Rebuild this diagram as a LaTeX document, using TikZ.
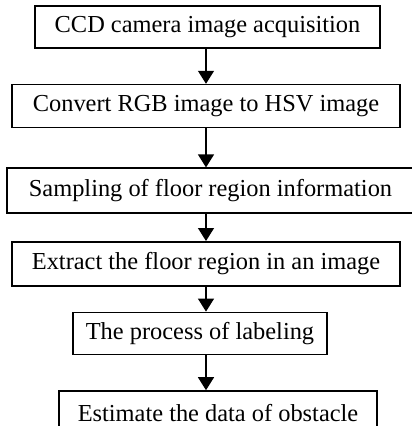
\documentclass[tikz,border=0pt]{standalone}
\usepackage{fontspec}
\setmainfont{Liberation Serif}
\usetikzlibrary{positioning,arrows.meta}

\begin{document}
\begin{tikzpicture}[
    font=\fontsize{24.4}{29}\selectfont,
    stepbox/.style={rectangle, draw, line width=1.6pt, inner sep=0pt, minimum height=43pt},
    arrow/.style={-{Triangle[length=13pt,width=16pt]}, line width=1.3pt}
]
    \useasboundingbox (0,0) rectangle (412pt,-426pt);
    \coordinate (spine) at (206pt,0);

    % Steps
    \node (ccd) [stepbox, minimum width=345pt, minimum height=42pt] at (207.5pt,-27pt) {CCD camera image acquisition};
    \node (hsv) [stepbox, minimum width=388pt, below=35pt of ccd, xshift=-1.5pt] {Convert RGB image to HSV image};
    \node (sample) [stepbox, minimum width=407pt, minimum height=45pt, below=39pt of hsv, xshift=4.5pt] {Sampling of floor region information};
    \node (extract) [stepbox, minimum width=388pt, minimum height=44pt, below=27pt of sample, xshift=-4.5pt] {Extract the floor region in an image};
    \node (label) [stepbox, minimum width=254pt, minimum height=42pt, below=25pt of extract, xshift=-6pt] {The process of labeling};
    \node (obst) [stepbox, minimum width=318pt, minimum height=45pt, below=35pt of label, xshift=18pt] {Estimate the data of obstacle};

    % Arrows
    \draw [arrow] (ccd.south -| spine) -- (hsv.north -| spine);
    \draw [arrow] (hsv.south -| spine) -- (sample.north -| spine);
    \draw [arrow] (sample.south -| spine) -- (extract.north -| spine);
    \draw [arrow] (extract.south -| spine) -- (label.north -| spine);
    \draw [arrow] (label.south -| spine) -- (obst.north -| spine);

\end{tikzpicture}
\end{document}
